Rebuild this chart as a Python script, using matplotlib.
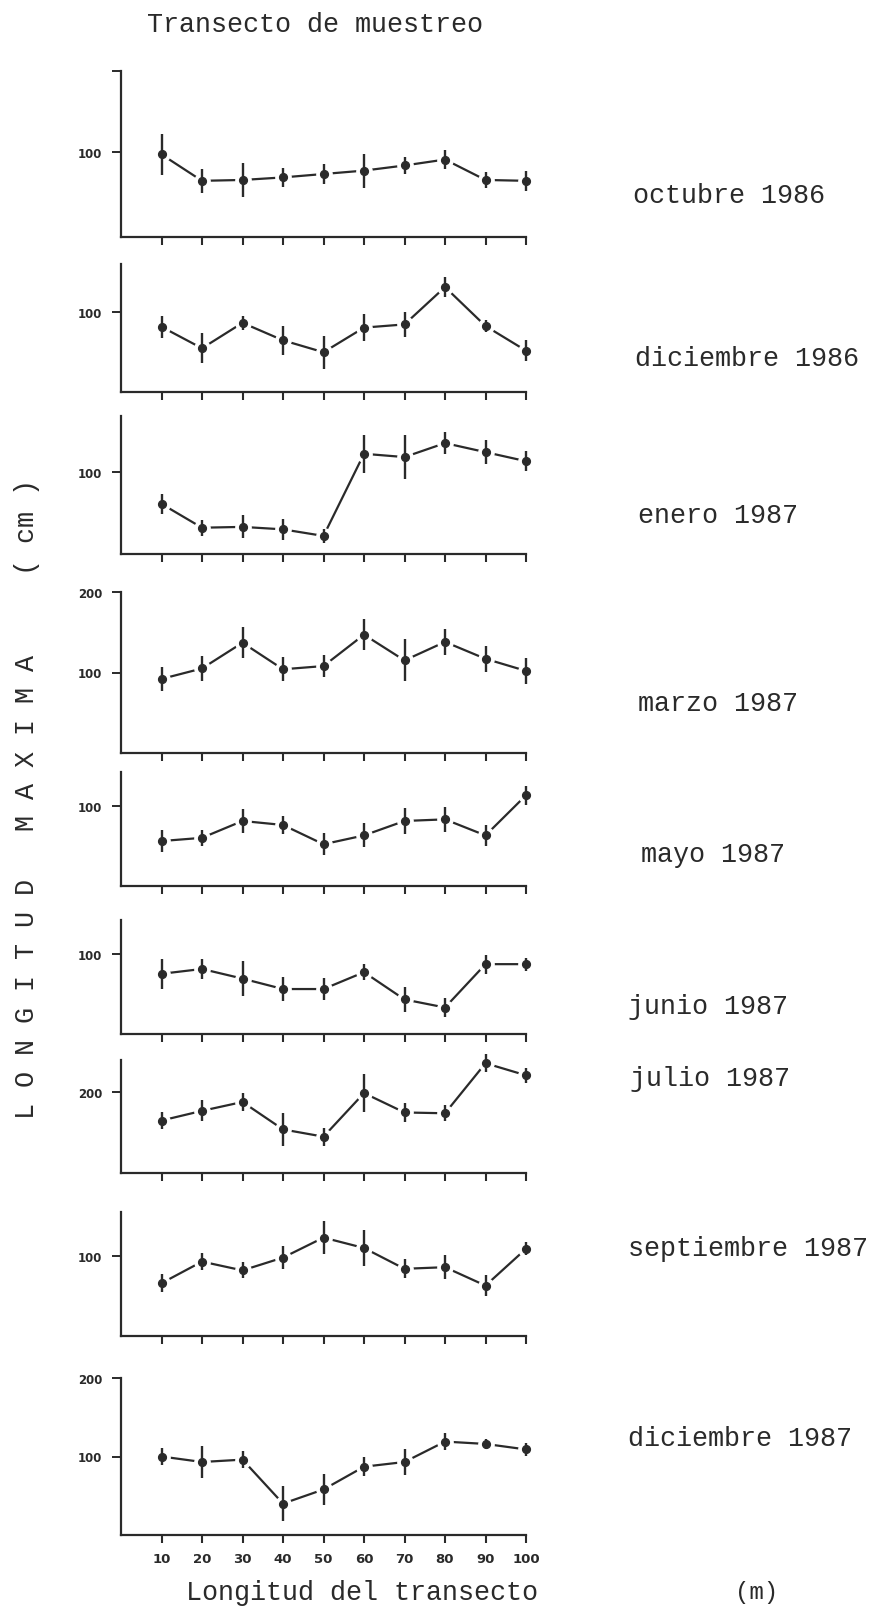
import matplotlib
matplotlib.use("Agg")
import matplotlib.pyplot as plt

# Sampling positions along the transect (m)
positions = [10, 20, 30, 40, 50, 60, 70, 80, 90, 100]

# Mean maximum length (cm) and error half-width for each survey
oct86_mean = [97, 66, 67, 70, 74, 78, 84, 91, 67, 66]
oct86_err = [24, 14, 20, 11, 12, 20, 10, 11, 9, 12]

dic86_mean = [82, 55, 87, 65, 50, 81, 85, 132, 83, 52]
dic86_err = [14, 19, 9, 18, 21, 17, 16, 13, 8, 13]

ene87_mean = [61, 32, 33, 30, 22, 122, 118, 135, 124, 113]
ene87_err = [12, 10, 14, 13, 9, 23, 27, 13, 15, 12]

mar87_mean = [92, 105, 137, 104, 108, 147, 115, 138, 117, 102]
mar87_err = [15, 16, 19, 15, 14, 19, 26, 16, 16, 16]

may87_mean = [56, 60, 81, 76, 52, 63, 81, 83, 63, 113]
may87_err = [14, 10, 15, 11, 14, 15, 16, 16, 13, 12]

jun87_mean = [75, 81, 69, 56, 56, 77, 43, 33, 87, 87]
jun87_err = [19, 12, 22, 15, 14, 10, 15, 12, 12, 8]

jul87_mean = [165, 177, 188, 154, 145, 199, 175, 174, 236, 221]
jul87_err = [11, 13, 11, 20, 11, 24, 12, 10, 11, 9]

sep87_mean = [66, 93, 82, 98, 123, 110, 84, 86, 63, 109]
sep87_err = [11, 11, 10, 14, 21, 22, 12, 15, 13, 8]

dic87_mean = [100, 93, 96, 40, 58, 87, 93, 119, 116, 109]
dic87_err = [11, 20, 11, 22, 20, 12, 17, 11, 6, 8]

survey_names = ["octubre 1986", "diciembre 1986", "enero 1987", "marzo 1987",
                "mayo 1987", "junio 1987", "julio 1987", "septiembre 1987",
                "diciembre 1987"]
survey_means = [oct86_mean, dic86_mean, ene87_mean, mar87_mean, may87_mean,
                jun87_mean, jul87_mean, sep87_mean, dic87_mean]
survey_errs = [oct86_err, dic86_err, ene87_err, mar87_err, may87_err,
               jun87_err, jul87_err, sep87_err, dic87_err]

# y ranges and y ticks of each panel (an empty label leaves a bare tick)
y_limits = [(0, 195), (0, 161), (0, 168), (0, 200), (0, 142), (0, 142),
            (100, 240), (0, 155), (0, 200)]
y_ticks = [[100, 195], [100], [100], [100, 200], [100], [100], [200], [100],
           [100, 200]]
y_ticklabels = [["100", ""], ["100"], ["100"], ["100", "200"], ["100"],
                ["100"], ["200"], ["100"], ["100", "200"]]

W, H = 880, 1608
panel_px = [(72, 238), (265, 393), (417, 555), (593, 754), (773, 887),
            (921, 1035), (1061, 1174), (1213, 1337), (1379, 1536)]
label_px = [(633, 196), (635, 359), (638, 516), (638, 704), (641, 855),
            (628, 1007), (630, 1079), (628, 1249), (628, 1439)]
AX_LEFT, AX_RIGHT = 121, 526

INK = "#2a2a2a"
TYPE = "Liberation Mono"
TYPE_SIZE = 19.3

fig = plt.figure(figsize=(W / 100, H / 100), dpi=100)
fig.patch.set_facecolor("white")

for i, (mean, err) in enumerate(zip(survey_means, survey_errs)):
    top, bot = panel_px[i]
    ax = fig.add_axes([AX_LEFT / W, 1 - bot / H, (AX_RIGHT - AX_LEFT) / W,
                       (bot - top) / H])
    ax.set_xlim(0, 100)
    ax.set_ylim(*y_limits[i])
    for s in ("top", "right"):
        ax.spines[s].set_visible(False)
    for s in ("left", "bottom"):
        ax.spines[s].set_linewidth(1.6)
        ax.spines[s].set_color(INK)

    # connecting line, interrupted around each point by a white halo
    ax.plot(positions, mean, color=INK, lw=1.6, zorder=1, clip_on=False)
    ax.plot(positions, mean, ls="none", marker="o", ms=11, mfc="white",
            mec="white", zorder=2, clip_on=False)
    ax.errorbar(positions, mean, yerr=err, fmt="none", ecolor=INK,
                elinewidth=1.7, capsize=0, zorder=3, clip_on=False)
    ax.plot(positions, mean, ls="none", marker="o", ms=5.6, mfc=INK,
            mec=INK, zorder=4, clip_on=False)

    ax.set_xticks(positions)
    ax.tick_params(axis="x", direction="out", length=6, width=1.5,
                   color=INK, pad=6)
    ax.set_yticks(y_ticks[i])
    ax.set_yticklabels(y_ticklabels[i])
    ax.tick_params(axis="y", direction="out", length=6.5, width=1.4,
                   color=INK, pad=7)
    for lab in ax.get_yticklabels():
        lab.set_fontfamily("DejaVu Sans")
        lab.set_fontweight("bold")
        lab.set_fontsize(8.5)
        lab.set_color(INK)
    if i == len(survey_means) - 1:
        ax.set_xticklabels([str(p) for p in positions])
        for lab in ax.get_xticklabels():
            lab.set_fontfamily("DejaVu Sans")
            lab.set_fontweight("bold")
            lab.set_fontsize(9.5)
            lab.set_color(INK)
    else:
        ax.set_xticklabels([])
    ax.patch.set_alpha(0)

    lx, ly = label_px[i]
    fig.text(lx / W, 1 - ly / H, survey_names[i], family=TYPE,
             fontsize=TYPE_SIZE, color=INK, ha="left", va="center")

fig.text(315 / W, 1 - 25 / H, "Transecto de muestreo", family=TYPE,
         fontsize=TYPE_SIZE, color=INK, ha="center", va="center")
fig.text(362 / W, 1 - 1593 / H, "Longitud del transecto", family=TYPE,
         fontsize=TYPE_SIZE, color=INK, ha="center", va="center")
fig.text(757 / W, 1 - 1593 / H, "(m)", family=TYPE, fontsize=TYPE_SIZE - 2,
         color=INK, ha="center", va="center")
fig.text(27 / W, 1 - 799 / H, "L O N G I T U D   M A X I M A     ( cm )",
         family=TYPE, fontsize=TYPE_SIZE, color=INK, rotation=90,
         ha="center", va="center")

fig.savefig("out.png", dpi=100, facecolor="white")
